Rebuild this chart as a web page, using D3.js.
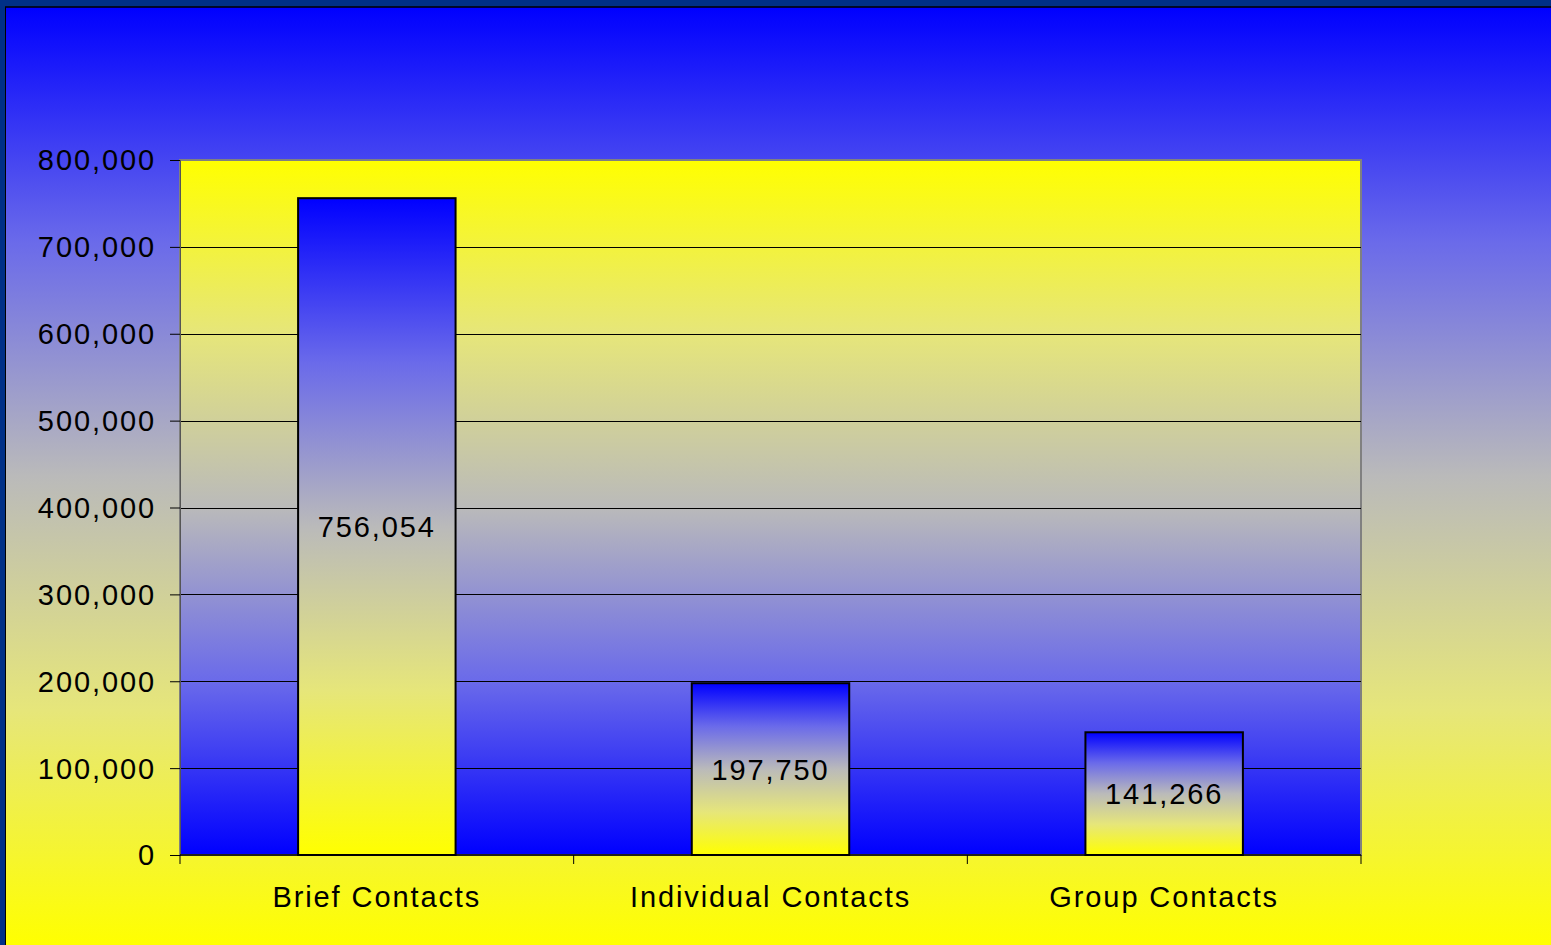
<!DOCTYPE html>
<html>
<head>
<meta charset="utf-8">
<script src="https://cdn.jsdelivr.net/npm/d3@7"></script>
<style>
  html, body { margin: 0; padding: 0; overflow: hidden; }
  svg { display: block; }
  text { font-family: "Liberation Sans", Arial, sans-serif; letter-spacing: 1.9px; }
</style>
</head>
<body>
<div id="chart"></div>
<script>
const categories = ['Brief Contacts', 'Individual Contacts', 'Group Contacts']
const values = [756054, 197750, 141266]
const yTicks = [0, 100000, 200000, 300000, 400000, 500000, 600000, 700000, 800000]

const width = 1551, height = 945
const margin = {top: 160, right: 190, bottom: 90, left: 180}
const fontSize = 29

const svg = d3.select('#chart').append('svg')
    .attr('width', width)
    .attr('height', height)

const defs = svg.append('defs')

// blue -> yellow blend with a greyish middle, like the office fill
const blendStops = [
    [0, '#0000ff'], [0.25, '#6a6aea'], [0.5, '#bababa'], [0.75, '#e6e67a'], [1, '#ffff00']
]

function addGradient(id, reverse)
{
    var g = defs.append('linearGradient')
        .attr('id', id)
        .attr('x1', 0).attr('y1', 0).attr('x2', 0).attr('y2', 1)
    var stops = reverse ? blendStops.map(s => [1 - s[0], s[1]]).reverse() : blendStops
    stops.forEach(function(s) {
        g.append('stop')
            .attr('offset', s[0])
            .attr('stop-color', s[1])
    })
}
addGradient('bgGrad', false)
addGradient('plotGrad', true)
addGradient('barGrad', false)

// background + frame
svg.append('rect')
    .attr('width', width).attr('height', height)
    .attr('fill', '#003087')
svg.append('rect')
    .attr('x', 6).attr('y', 7)
    .attr('width', width - 6).attr('height', height - 7)
    .attr('fill', 'url(#bgGrad)')
svg.append('line')
    .attr('x1', 5.5).attr('x2', 5.5).attr('y1', 7).attr('y2', height)
    .attr('stroke', '#000').attr('stroke-width', 1)
svg.append('line')
    .attr('x1', 5).attr('x2', width).attr('y1', 7).attr('y2', 7)
    .attr('stroke', '#000').attr('stroke-width', 1.5)

const plotW = width - margin.left - margin.right
const plotH = height - margin.top - margin.bottom
const plot = svg.append('g').attr('transform', `translate(${margin.left},${margin.top})`)

const x = d3.scaleBand().domain(categories).range([0, plotW]).paddingInner(0.6).paddingOuter(0.3)
const xb = d3.scaleBand().domain(categories).range([0, plotW])
const y = d3.scaleLinear().domain([0, 800000]).range([plotH, 0])

plot.append('rect')
    .attr('width', plotW).attr('height', plotH)
    .attr('fill', 'url(#plotGrad)')
    .attr('stroke', '#808080').attr('stroke-width', 2)

// gridlines
plot.append('g')
    .selectAll('line')
    .data(yTicks.filter(d => d > 0 && d < 800000))
    .join('line')
    .attr('x1', 0).attr('x2', plotW)
    .attr('y1', d => Math.round(y(d)) + 0.5).attr('y2', d => Math.round(y(d)) + 0.5)
    .attr('stroke', '#000').attr('stroke-width', 1)

// bars
plot.append('g')
    .selectAll('rect')
    .data(values)
    .join('rect')
    .attr('x', (d, i) => x(categories[i]))
    .attr('y', d => y(d))
    .attr('width', x.bandwidth())
    .attr('height', d => plotH - y(d))
    .attr('fill', 'url(#barGrad)')
    .attr('stroke', '#000').attr('stroke-width', 2)

plot.append('g')
    .selectAll('text')
    .data(values)
    .join('text')
    .attr('x', (d, i) => x(categories[i]) + x.bandwidth() / 2)
    .attr('y', d => (y(d) + plotH) / 2)
    .attr('dy', '0.36em')
    .attr('text-anchor', 'middle')
    .attr('font-size', fontSize)
    .attr('fill', '#000')
    .text(d => d3.format(',')(d))

// y axis
const yAxis = plot.append('g')
    .call(d3.axisLeft(y).tickValues(yTicks).tickFormat(d3.format(',')).tickSize(10).tickPadding(14))
yAxis.select('.domain').attr('stroke', '#555')
yAxis.selectAll('.tick line').attr('stroke', '#000')
yAxis.selectAll('text').attr('font-size', fontSize).attr('fill', '#000')
    .attr('font-family', '"Liberation Sans", Arial, sans-serif')
    .attr('dy', '0.34em')

// x axis: ticks at category boundaries
const xAxis = plot.append('g').attr('transform', `translate(0,${plotH})`)
xAxis.append('line')
    .attr('x1', 0).attr('x2', plotW).attr('y1', 0).attr('y2', 0)
    .attr('stroke', '#000').attr('stroke-width', 1.5)
xAxis.selectAll('line.tk')
    .data(categories.map(c => xb(c)).concat([plotW]))
    .join('line')
    .attr('class', 'tk')
    .attr('x1', d => d).attr('x2', d => d).attr('y1', 0).attr('y2', 9)
    .attr('stroke', '#000')
xAxis.selectAll('text')
    .data(categories)
    .join('text')
    .attr('x', d => xb(d) + xb.bandwidth() / 2)
    .attr('y', 42)
    .attr('dy', '0.36em')
    .attr('text-anchor', 'middle')
    .attr('font-size', fontSize)
    .attr('fill', '#000')
    .text(d => d)
</script>
</body>
</html>
